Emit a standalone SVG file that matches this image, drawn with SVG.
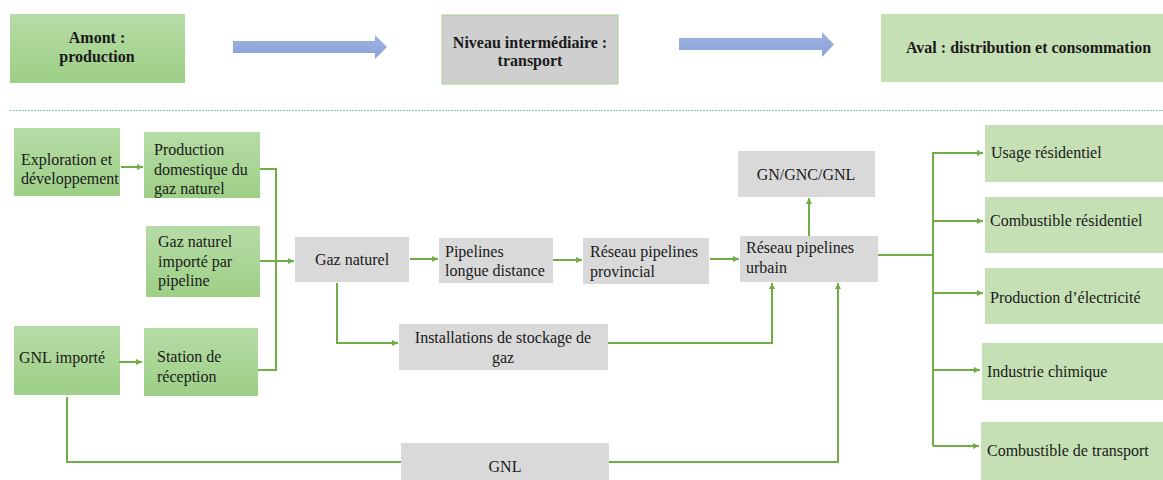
<svg xmlns="http://www.w3.org/2000/svg" width="1163" height="480" viewBox="0 0 1163 480" font-family="'Liberation Serif', 'Times New Roman', serif">
<defs>
<linearGradient id="gg" x1="0" y1="0" x2="0" y2="1">
<stop offset="0" stop-color="#b6dca6"/>
<stop offset="1" stop-color="#9dcf86"/>
</linearGradient>
<linearGradient id="bg" x1="0" y1="0" x2="0" y2="1">
<stop offset="0" stop-color="#9fb3e3"/>
<stop offset="1" stop-color="#8aa2d6"/>
</linearGradient>
<marker id="ah" viewBox="0 0 6 6" refX="6" refY="3" markerWidth="6" markerHeight="6" markerUnits="userSpaceOnUse" orient="auto">
<path d="M0,0 L6,3 L0,6 z" fill="#70ad47"/>
</marker>
<style>
text{font-family:"Liberation Serif","Times New Roman",serif;font-size:16px;fill:#1a1a1a}
.b{font-weight:bold}
.c{text-anchor:middle}
.g{fill:url(#gg)}
.lg{fill:#c5e0b4}
.gr{fill:#d9d9d9}
.cn{fill:none;stroke:#70ad47;stroke-width:2}
.ar{marker-end:url(#ah)}
</style>
</defs>
<rect width="1163" height="480" fill="#ffffff"/>

<g id="amont"><rect class="g" x="10" y="14" width="175" height="69"/><text class="b c" x="97" y="43">Amont :</text><text class="b c" x="97" y="62">production</text></g>
<g id="niveau"><rect x="442" y="15" width="176" height="69" fill="#cfcfcf" stroke="#a9d18e" stroke-width="1"/><text class="b c" x="530" y="48">Niveau intermédiaire :</text><text class="b c" x="530" y="66">transport</text></g>
<g id="aval"><rect class="lg" x="881" y="14" width="282" height="68"/><text class="b" x="906" y="53">Aval : distribution et consommation</text></g>
<g id="fleches-bleues">
<path d="M233,41 H375 V35 L387,47 L375,59 V53 H233 z" fill="url(#bg)"/>
<path d="M679,38 H822 V32 L834,44.5 L822,57 V50 H679 z" fill="url(#bg)"/>
</g>
<line x1="10" y1="110.5" x2="1163" y2="110.5" stroke="#8fcf9a" stroke-width="1" stroke-dasharray="2,1"/>

<g id="exploration"><rect class="g" x="14" y="128" width="106" height="68"/><text x="21" y="165">Exploration et</text><text x="21" y="184">développement</text></g>
<g id="production-domestique"><rect class="g" x="144" y="132" width="116" height="66"/><text x="154" y="155">Production</text><text x="154" y="175">domestique du</text><text x="154" y="194">gaz naturel</text></g>
<g id="gaz-importe"><rect class="g" x="146" y="226" width="114" height="71"/><text x="158" y="247">Gaz naturel</text><text x="158" y="267">importé par</text><text x="158" y="286">pipeline</text></g>
<g id="gnl-importe"><rect class="g" x="14" y="326" width="106" height="69"/><text x="19" y="363">GNL importé</text></g>
<g id="station"><rect class="g" x="144" y="328" width="114" height="68"/><text x="157" y="362">Station de</text><text x="157" y="382">réception</text></g>

<g id="gaz-naturel"><rect class="gr" x="295" y="237" width="114" height="45"/><text class="c" x="352" y="265">Gaz naturel</text></g>
<g id="pipelines-ld"><rect class="gr" x="439" y="238" width="114" height="45"/><text x="445" y="257">Pipelines</text><text x="445" y="276">longue distance</text></g>
<g id="reseau-provincial"><rect class="gr" x="583" y="238" width="126" height="46"/><text x="590" y="257">Réseau pipelines</text><text x="590" y="277">provincial</text></g>
<g id="reseau-urbain"><rect class="gr" x="740" y="236" width="138" height="46"/><text x="746" y="253">Réseau pipelines</text><text x="746" y="273">urbain</text></g>
<g id="gn-gnc-gnl"><rect class="gr" x="738" y="151" width="137" height="46"/><text class="c" x="806" y="180">GN/GNC/GNL</text></g>
<g id="stockage"><rect class="gr" x="399" y="324" width="209" height="46"/><text class="c" x="503" y="343">Installations de stockage de</text><text class="c" x="503" y="363">gaz</text></g>
<g id="gnl"><rect class="gr" x="401" y="443" width="208" height="37"/><text class="c" x="505" y="472">GNL</text></g>

<g id="usage-residentiel"><rect class="lg" x="985" y="125" width="178" height="57"/><text x="991" y="158">Usage résidentiel</text></g>
<g id="combustible-residentiel"><rect class="lg" x="985" y="197" width="178" height="56"/><text x="990" y="226">Combustible résidentiel</text></g>
<g id="production-electricite"><rect class="lg" x="985" y="268" width="178" height="56"/><text x="990" y="303">Production d’électricité</text></g>
<g id="industrie-chimique"><rect class="lg" x="982" y="343" width="181" height="57"/><text x="987" y="377">Industrie chimique</text></g>
<g id="combustible-transport"><rect class="lg" x="981" y="422" width="182" height="58"/><text x="987" y="456">Combustible de transport</text></g>

<g id="connecteurs">
<path class="cn ar" d="M121,167 H143"/>
<path class="cn ar" d="M119,362 H142"/>
<path class="cn" d="M260,169 H276 V370 H258"/>
<path class="cn ar" d="M260,261 H294"/>
<path class="cn ar" d="M410,259 H438"/>
<path class="cn ar" d="M553,260 H582"/>
<path class="cn ar" d="M710,259 H739"/>
<path class="cn ar" d="M809,236 V198"/>
<path class="cn ar" d="M337,283 V343 H398"/>
<path class="cn ar" d="M608,343 H772 V283"/>
<path class="cn" d="M67,397 V462 H401"/>
<path class="cn ar" d="M609,462 H838 V283"/>
<path class="cn" d="M878,255 H933"/>
<path class="cn" d="M933,152 V446"/>
<path class="cn ar" d="M933,153 H983"/>
<path class="cn ar" d="M933,221 H983"/>
<path class="cn ar" d="M933,293 H983"/>
<path class="cn ar" d="M933,370 H980"/>
<path class="cn ar" d="M933,446 H979"/>
</g>
</svg>
